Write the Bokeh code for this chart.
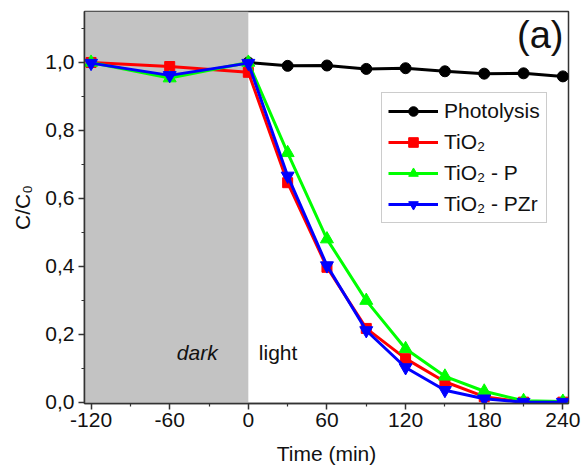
from bokeh.plotting import figure
from bokeh.models import (BoxAnnotation, Label, FixedTicker, CustomJSTickFormatter,
                          Range1d, Legend, LegendItem)
from bokeh.embed import file_html
from bokeh.resources import INLINE

# ---- data ----
time_dark_light = [-120, -60, 0, 30, 60, 90, 120, 150, 180, 210, 240]
time_photo = [0, 30, 60, 90, 120, 150, 180, 210, 240]
photolysis = [1.0, 0.990, 0.991, 0.981, 0.983, 0.974, 0.967, 0.968, 0.959]
tio2 = [1.0, 0.988, 0.971, 0.646, 0.397, 0.217, 0.128, 0.060, 0.016, 0.0, 0.0]
tio2_p = [1.0, 0.954, 1.0, 0.734, 0.480, 0.299, 0.157, 0.076, 0.032, 0.004, 0.002]
tio2_pzr = [0.998, 0.962, 0.998, 0.666, 0.402, 0.211, 0.102, 0.035, 0.010, 0.0, 0.0]

x_major = [-120, -60, 0, 60, 120, 180, 240]
x_minor = [-90, -30, 30, 90, 150, 210]
y_major = [0.0, 0.2, 0.4, 0.6, 0.8, 1.0]
y_minor = [0.1, 0.3, 0.5, 0.7, 0.9, 1.1]
dark_end = 0

FONT = "Liberation Sans"
FS = "21px"

p = figure(width=581, height=471, output_backend="svg", toolbar_location=None,
           x_range=Range1d(-125, 244.3), y_range=Range1d(-0.004, 1.15),
           min_border_left=84, min_border_right=13, min_border_top=11,
           min_border_bottom=68)
p.grid.visible = False
p.background_fill_color = "white"
p.border_fill_color = "white"
p.outline_line_color = "#333333"
p.outline_line_width = 1.5

# dark region
p.add_layout(BoxAnnotation(right=dark_end, fill_color="#c3c3c3", fill_alpha=1.0,
                           line_color=None, level="underlay"))

lw = 3
r_k_l = p.line(time_photo, photolysis, line_color="black", line_width=lw)
r_k_m = p.scatter(time_photo, photolysis, marker="circle", size=11,
                  fill_color="black", line_color="black")
r_r_l = p.line(time_dark_light, tio2, line_color="#ff0000", line_width=lw)
r_r_m = p.scatter(time_dark_light, tio2, marker="square", size=10,
                  fill_color="#ff0000", line_color="#ff0000")
r_g_l = p.line(time_dark_light, tio2_p, line_color="#00ff00", line_width=lw)
r_g_m = p.scatter(time_dark_light, tio2_p, marker="triangle", size=13,
                  fill_color="#00ff00", line_color="#00ff00")
r_b_l = p.line(time_dark_light, tio2_pzr, line_color="#0000ff", line_width=lw)
r_b_m = p.scatter(time_dark_light, tio2_pzr, marker="inverted_triangle", size=13,
                  fill_color="#0000ff", line_color="#0000ff")

legend = Legend(items=[
    LegendItem(label="Photolysis", renderers=[r_k_l, r_k_m]),
    LegendItem(label="TiO₂", renderers=[r_r_l, r_r_m]),
    LegendItem(label="TiO₂ - P", renderers=[r_g_l, r_g_m]),
    LegendItem(label="TiO₂ - PZr", renderers=[r_b_l, r_b_m]),
], location=(297, 180))
legend.label_text_font = FONT
legend.label_text_font_size = FS
legend.label_text_color = "#111111"
legend.glyph_width = 50
legend.glyph_height = 24
legend.label_height = 24
legend.spacing = 7
legend.label_standoff = 6
legend.padding = 6
legend.margin = 0
legend.border_line_color = "#999999"
legend.border_line_width = 1
legend.background_fill_alpha = 1.0
p.add_layout(legend)

# axes
for ax in (p.xaxis[0], p.yaxis[0]):
    ax.axis_line_color = "#333333"
    ax.axis_line_width = 1.5
    ax.major_tick_line_color = "#333333"
    ax.minor_tick_line_color = "#333333"
    ax.major_tick_line_width = 1.5
    ax.minor_tick_line_width = 1.2
    ax.major_tick_in = 0
    ax.major_tick_out = 6
    ax.minor_tick_in = 0
    ax.minor_tick_out = 3
    ax.major_label_text_font = FONT
    ax.major_label_text_font_size = FS
    ax.major_label_text_color = "#111111"
    ax.axis_label_text_font = FONT
    ax.axis_label_text_font_size = FS
    ax.axis_label_text_font_style = "normal"
    ax.axis_label_text_color = "#111111"

p.xaxis.ticker = FixedTicker(ticks=x_major, minor_ticks=x_minor)
p.yaxis.ticker = FixedTicker(ticks=y_major, minor_ticks=y_minor)
p.xaxis.formatter = CustomJSTickFormatter(code="return String(Math.round(tick));")
p.yaxis.formatter = CustomJSTickFormatter(code="return tick.toFixed(1).replace('.', ',');")
p.xaxis.axis_label = "Time (min)"
p.yaxis.axis_label = "C/C₀"
p.xaxis.major_label_standoff = 3
p.xaxis.axis_label_standoff = 12
p.yaxis.major_label_standoff = 4
p.yaxis.axis_label_standoff = 8

p.add_layout(Label(x=-39, y=0.147, text="dark", text_font=FONT, text_font_size=FS,
                   text_font_style="italic", text_align="center", text_baseline="middle",
                   text_color="#111111"))
p.add_layout(Label(x=8, y=0.147, text="light", text_font=FONT, text_font_size=FS,
                   text_align="left", text_baseline="middle", text_color="#111111"))
p.add_layout(Label(x=240.5, y=1.082, text="(a)", text_font=FONT, text_font_size="38px",
                   text_align="right", text_baseline="middle", text_color="#111111"))

open("out.html", "w").write(file_html(p, INLINE))
